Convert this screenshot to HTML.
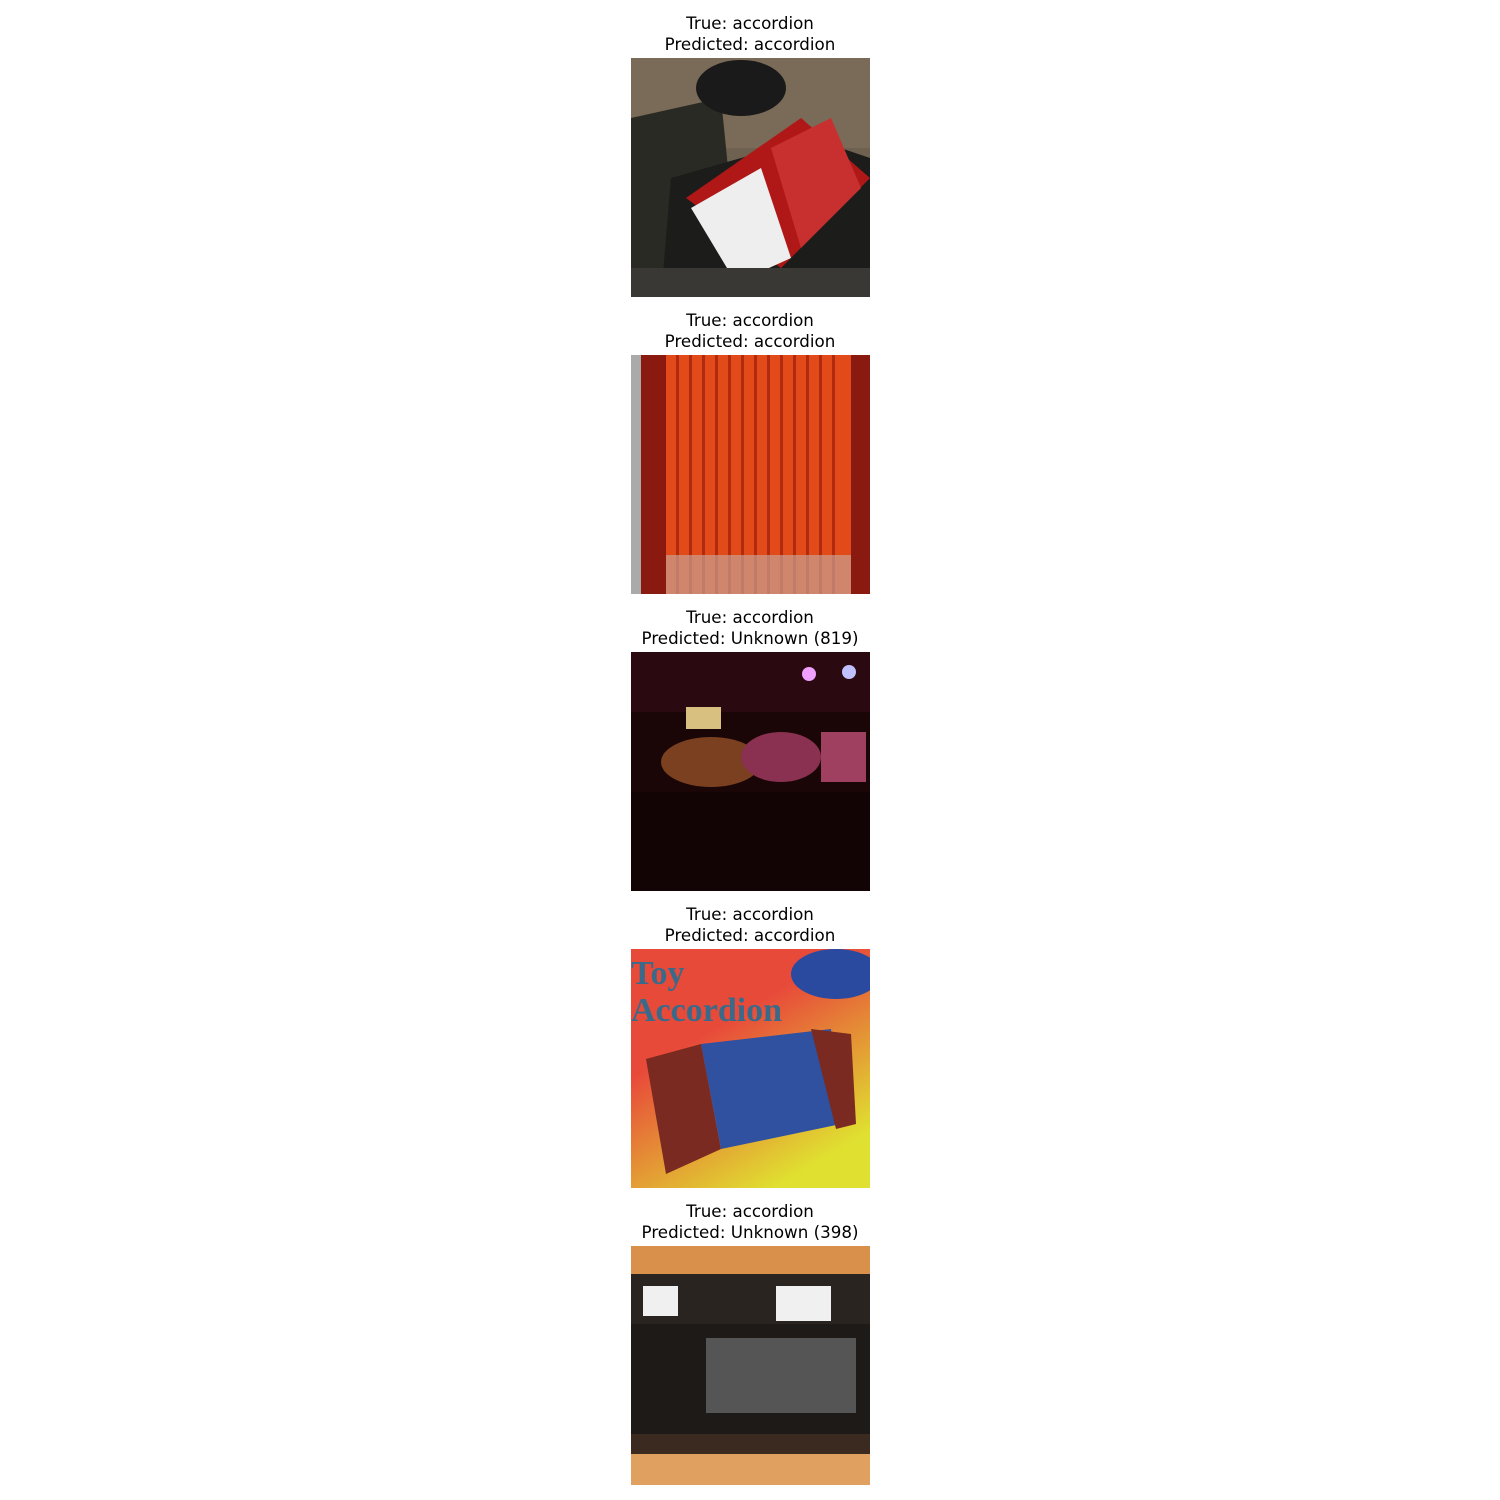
<!DOCTYPE html>
<html><head><meta charset="utf-8">
<style>
body{margin:0;width:1500px;height:1500px;background:#fff;position:relative;overflow:hidden;font-family:"DejaVu Sans","Liberation Sans",sans-serif;}
.t{position:absolute;left:500px;width:500px;text-align:center;font-size:16.7px;line-height:21px;color:#000;}
svg.im{position:absolute;left:631px;width:239px;height:239px;}
</style></head><body>
<div class="t" style="top:13px">True: accordion<br>Predicted: accordion</div>
<svg class="im" style="top:58px" viewBox="0 0 239 239">
<rect width="239" height="239" fill="#6e6150"/>
<rect x="0" y="0" width="239" height="90" fill="#7a6a58"/>
<path d="M0 60 L90 40 L110 239 L0 239Z" fill="#2a2a24"/>
<ellipse cx="110" cy="30" rx="45" ry="28" fill="#1a1a1a"/>
<path d="M40 120 L180 80 L239 100 L239 239 L30 239Z" fill="#1c1c1a"/>
<path d="M55 140 L170 60 L239 120 L150 210 Z" fill="#b01818"/>
<path d="M60 150 L130 110 L160 200 L105 225Z" fill="#eee"/>
<path d="M140 90 L200 60 L230 130 L170 190Z" fill="#c83030"/>
<rect x="0" y="210" width="239" height="29" fill="#3a3834"/>
</svg>
<div class="t" style="top:310px">True: accordion<br>Predicted: accordion</div>
<svg class="im" style="top:355px" viewBox="0 0 239 239">
<rect width="239" height="239" fill="#8a1a10"/>
<rect x="35" y="0" width="185" height="239" fill="#e24a1a"/>
<g fill="#b02a10">
<rect x="45" y="0" width="3" height="239"/><rect x="58" y="0" width="3" height="239"/><rect x="71" y="0" width="3" height="239"/><rect x="84" y="0" width="3" height="239"/><rect x="97" y="0" width="3" height="239"/><rect x="110" y="0" width="3" height="239"/><rect x="123" y="0" width="3" height="239"/><rect x="136" y="0" width="3" height="239"/><rect x="149" y="0" width="3" height="239"/><rect x="162" y="0" width="3" height="239"/><rect x="175" y="0" width="3" height="239"/><rect x="188" y="0" width="3" height="239"/><rect x="201" y="0" width="3" height="239"/></g>
<rect x="35" y="200" width="185" height="39" fill="#c8a090" opacity="0.7"/>
<rect x="0" y="0" width="10" height="239" fill="#aaa"/>
</svg>
<div class="t" style="top:607px">True: accordion<br>Predicted: Unknown (819)</div>
<svg class="im" style="top:652px" viewBox="0 0 239 239">
<rect width="239" height="239" fill="#1a0606"/>
<rect x="0" y="0" width="239" height="60" fill="#2a0a10"/>
<circle cx="178" cy="22" r="7" fill="#f0a0ff"/><circle cx="218" cy="20" r="7" fill="#c0c0ff"/>
<rect x="55" y="55" width="35" height="22" fill="#d8c080"/>
<ellipse cx="80" cy="110" rx="50" ry="25" fill="#7a4020"/>
<ellipse cx="150" cy="105" rx="40" ry="25" fill="#8a3050"/>
<rect x="190" y="80" width="45" height="50" fill="#a04060"/>
<rect x="0" y="140" width="239" height="99" fill="#120404"/>
</svg>
<div class="t" style="top:904px">True: accordion<br>Predicted: accordion</div>
<svg class="im" style="top:949px" viewBox="0 0 239 239">
<defs><linearGradient id="g4" x1="0" y1="0" x2="0.6" y2="1"><stop offset="0.4" stop-color="#e84a3a"/><stop offset="1" stop-color="#e0e030"/></linearGradient></defs>
<rect width="239" height="239" fill="url(#g4)"/>
<text x="0" y="35" font-family="Liberation Serif,serif" font-size="34" font-weight="bold" fill="#3a6a8a">Toy</text>
<text x="0" y="72" font-family="Liberation Serif,serif" font-size="34" font-weight="bold" fill="#3a6a8a">Accordion</text>
<ellipse cx="205" cy="25" rx="45" ry="25" fill="#2a4aa0"/>
<path d="M15 110 L70 95 L90 200 L35 225Z" fill="#7a2a20"/>
<path d="M70 95 L200 80 L210 175 L90 200Z" fill="#3050a0"/>
<path d="M180 80 L220 85 L225 175 L205 180Z" fill="#7a2a20"/>
</svg>
<div class="t" style="top:1201px">True: accordion<br>Predicted: Unknown (398)</div>
<svg class="im" style="top:1246px" viewBox="0 0 239 239">
<rect width="239" height="239" fill="#d8904a"/>
<rect x="0" y="28" width="239" height="50" fill="#2a2420"/>
<rect x="12" y="40" width="35" height="30" fill="#f0f0f0"/>
<rect x="145" y="40" width="55" height="35" fill="#f0f0f0"/>
<rect x="0" y="78" width="239" height="110" fill="#1e1a18"/>
<rect x="75" y="92" width="150" height="75" fill="#555"/>
<rect x="0" y="188" width="239" height="20" fill="#3a2a20"/>
<rect x="0" y="208" width="239" height="31" fill="#e0a060"/>
</svg>
</body></html>
